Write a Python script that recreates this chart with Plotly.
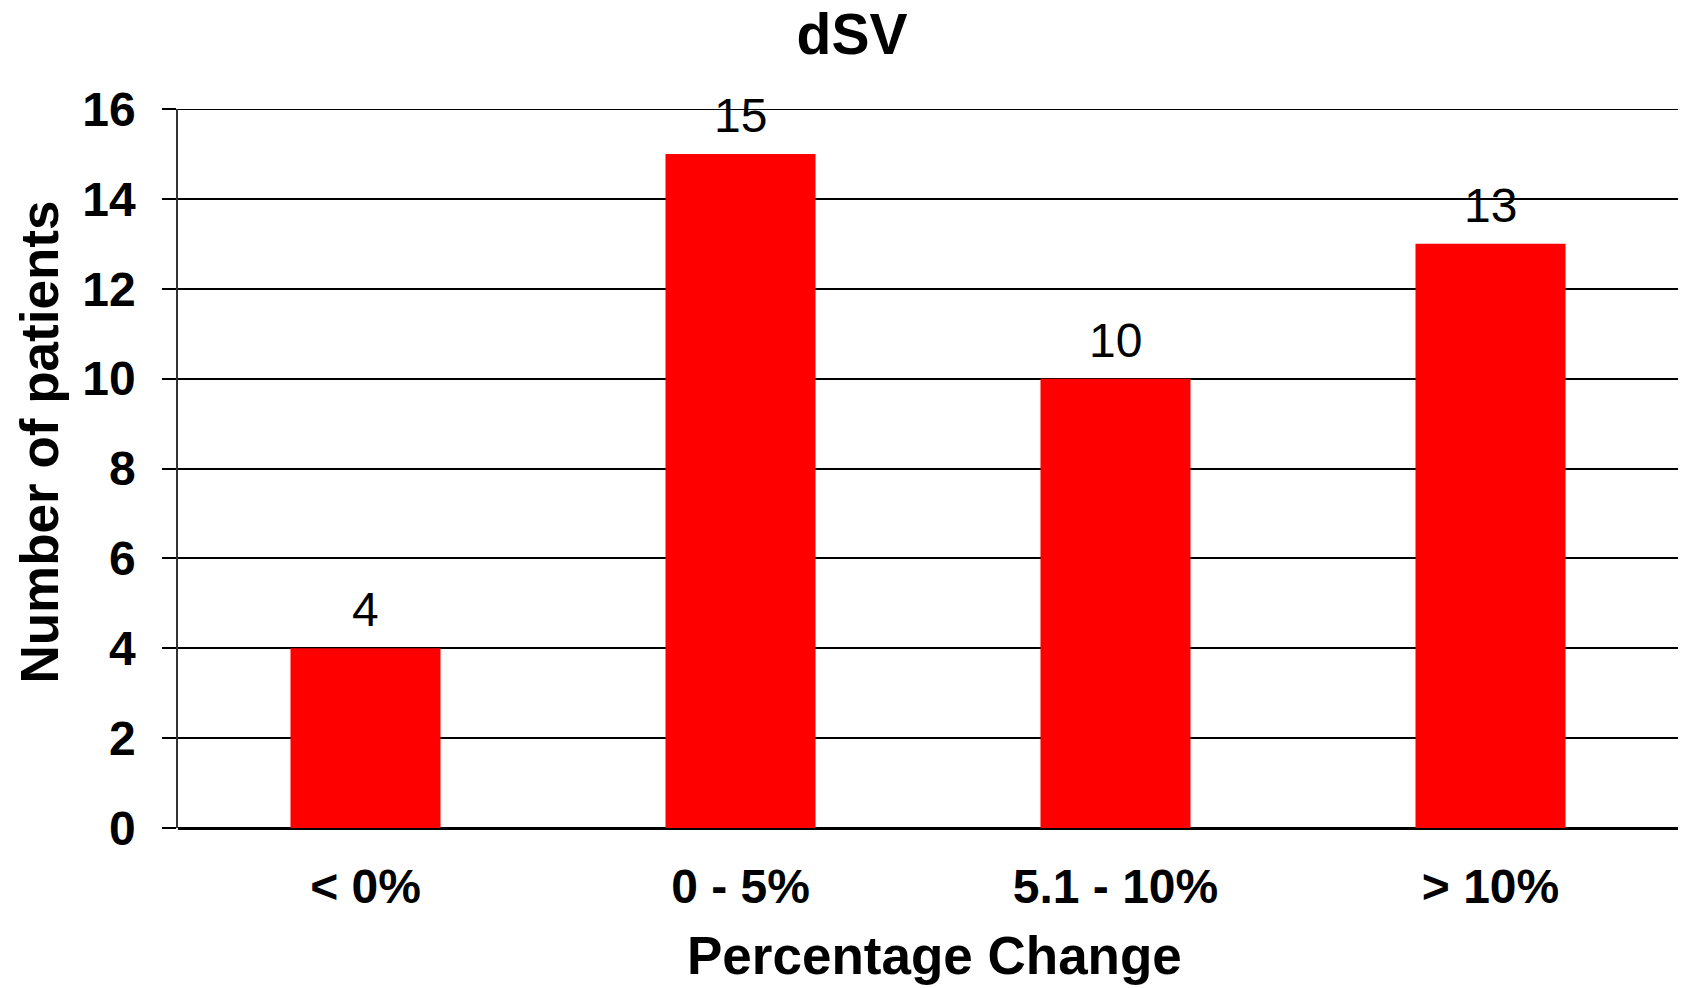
import plotly.graph_objects as go

# Distribution of stroke-volume change (dSV)
categories = ["< 0%", "0 - 5%", "5.1 - 10%", "> 10%"]
patients = [4, 15, 10, 13]
y_ticks = [0, 2, 4, 6, 8, 10, 12, 14, 16]

FONT = "Liberation Sans, Arial, sans-serif"
W, H = 1687, 988
L, R, T, B = 177.5, 9, 109, 160

fig = go.Figure(
    go.Bar(
        x=categories,
        y=patients,
        marker=dict(color="#FF0000", line=dict(width=0)),
        width=0.4,
        hoverinfo="x+y",
    )
)

# value labels above bars
for cat, val in zip(categories, patients):
    fig.add_annotation(
        x=cat, y=val, xref="x", yref="y",
        text=str(val), showarrow=False,
        yanchor="bottom", yshift=10,
        font=dict(family=FONT, size=48, color="black"),
    )

plot_w = W - L - R
plot_h = H - T - B

# top gridline at the axis maximum
fig.add_shape(
    type="line", xref="paper", yref="y",
    x0=0, x1=1, y0=y_ticks[-1], y1=y_ticks[-1],
    line=dict(color="black", width=2), layer="below",
)

# y-axis title, rotated
fig.add_annotation(
    xref="paper", yref="paper",
    x=(38 - L) / plot_w, y=(H - B - 442) / plot_h,
    text="Number of patients", textangle=-90, showarrow=False,
    xanchor="center", yanchor="middle",
    font=dict(family=FONT, size=53, color="black", weight="bold"),
)

# x-axis title
fig.add_annotation(
    xref="paper", yref="paper",
    x=(934 - L) / plot_w, y=(H - B - 955) / plot_h,
    text="Percentage Change", showarrow=False,
    xanchor="center", yanchor="middle",
    font=dict(family=FONT, size=53, color="black", weight="bold"),
)

fig.update_layout(
    width=W, height=H,
    margin=dict(l=L, r=R, t=T, b=B, pad=0),
    paper_bgcolor="white", plot_bgcolor="white",
    showlegend=False,
    title=dict(
        text="dSV", x=852 / W, xref="container", xanchor="center",
        y=1 - 34 / H, yref="container", yanchor="middle",
        font=dict(family=FONT, size=57, color="black", weight="bold"),
    ),
    xaxis=dict(
        type="category",
        showgrid=False, zeroline=False,
        showline=False, ticks="",
        tickfont=dict(family=FONT, size=48, color="black", weight="bold"),
        ticklabelstandoff=26,
    ),
    yaxis=dict(
        range=[0, 16], tickvals=y_ticks,
        showgrid=True, gridcolor="black", gridwidth=2,
        zeroline=True, zerolinecolor="black", zerolinewidth=2.5,
        showline=True, linecolor="#333333", linewidth=1.5,
        ticks="outside", ticklen=14, tickwidth=2, tickcolor="black",
        tickfont=dict(family=FONT, size=48, color="black", weight="bold"),
        ticklabelstandoff=17,
    ),
)

fig.write_html("out.html")
